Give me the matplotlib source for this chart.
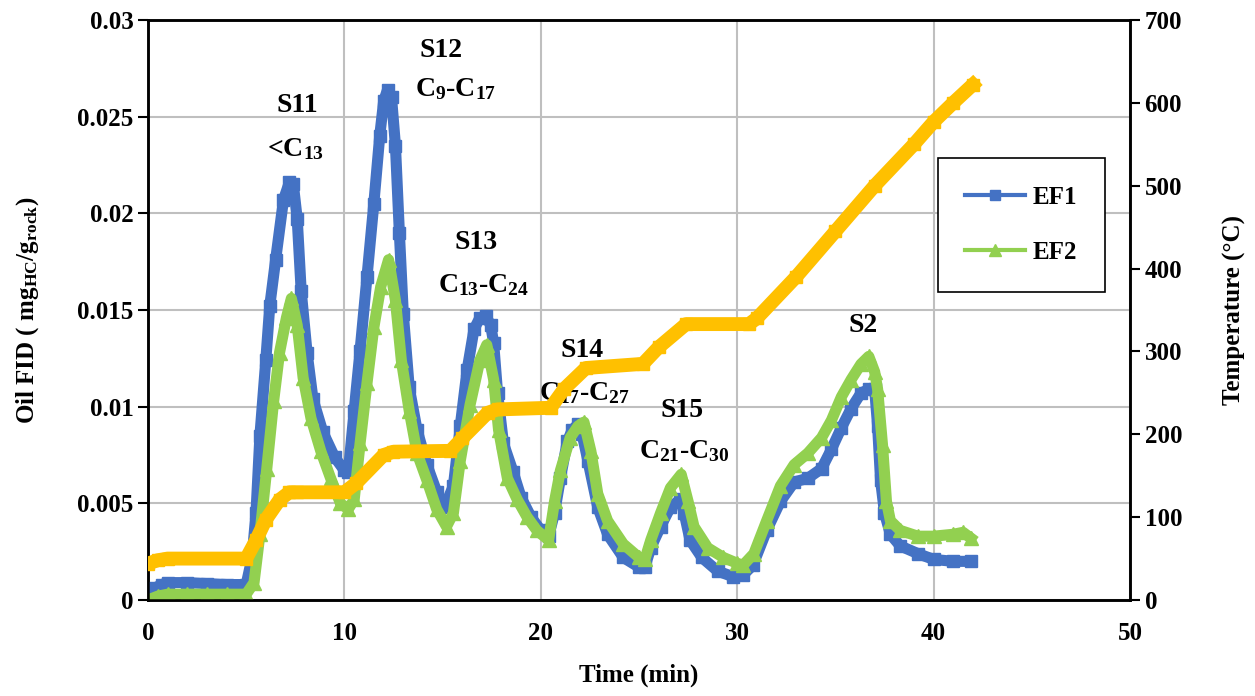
import numpy as np
import matplotlib.pyplot as plt
from matplotlib.lines import Line2D

plt.rcParams['font.family'] = 'Liberation Serif'
plt.rcParams['font.weight'] = 'bold'
plt.rcParams['axes.labelweight'] = 'bold'
plt.rcParams['mathtext.fontset'] = 'custom'
plt.rcParams['mathtext.rm'] = 'Liberation Serif:bold'
plt.rcParams['mathtext.it'] = 'Liberation Serif:bold'
plt.rcParams['mathtext.bf'] = 'Liberation Serif:bold'
plt.rcParams['mathtext.default'] = 'rm'

# EF1 oil FID signal (mg HC / g rock) vs time (min)
t_ef1 = [0, 0.3, 0.7, 1.0, 2.0, 3.0, 4.0, 5.0, 5.3, 5.5, 5.7, 6.0, 6.2, 6.5, 6.9,
         7.2, 7.4, 7.6, 7.8, 8.1, 8.4, 8.9, 9.5, 10.0, 10.2, 10.5, 10.8, 11.15,
         11.5, 11.8, 12.0, 12.2, 12.4, 12.6, 12.8, 13.0, 13.3, 13.7, 14.2, 14.7,
         15.1, 15.55, 15.9, 16.25, 16.6, 16.9, 17.2, 17.45, 17.6, 17.8, 18.1,
         18.6, 19.0, 19.5, 20.0, 20.4, 20.7, 21.0, 21.35, 21.6, 21.9, 22.1, 22.4,
         22.9, 23.4, 24.2, 25.0, 25.3, 25.6, 26.1, 26.6, 27.1, 27.3, 27.6, 28.2,
         29.0, 29.8, 30.3, 30.8, 31.5, 32.2, 32.9, 33.6, 34.3, 34.8, 35.3, 35.8,
         36.3, 36.7, 37.0, 37.15, 37.3, 37.5, 37.8, 38.3, 39.2, 40.0, 41.0, 41.9]
ef1 = [0.0002, 0.0006, 0.0008, 0.0009, 0.0009, 0.00085, 0.0008, 0.0008, 0.0022,
       0.0045, 0.0085, 0.0124, 0.0152, 0.0176, 0.0207, 0.0216, 0.0215, 0.0197,
       0.0160, 0.0128, 0.0104, 0.0087, 0.0074, 0.0067, 0.0066, 0.0098, 0.0129,
       0.0167, 0.0205, 0.0240, 0.0258, 0.0264, 0.0260, 0.0235, 0.0190, 0.0148,
       0.0110, 0.0088, 0.0070, 0.0056, 0.0048, 0.0059, 0.0090, 0.0119, 0.0140,
       0.0146, 0.0147, 0.0142, 0.0133, 0.0107, 0.0081, 0.0066, 0.0053, 0.0043,
       0.0036, 0.0033, 0.0045, 0.0063, 0.0082, 0.0088, 0.0091, 0.0086, 0.0072,
       0.0048, 0.0034, 0.0022, 0.0017, 0.0017, 0.0027, 0.0038, 0.0048, 0.0052,
       0.0045, 0.0031, 0.0022, 0.0015, 0.0012, 0.0013, 0.0018, 0.0036, 0.0051,
       0.0061, 0.0063, 0.0068, 0.0078, 0.0089, 0.0099, 0.0107, 0.0109, 0.0109,
       0.0090, 0.0062, 0.0045, 0.0034, 0.0028, 0.0024, 0.0021, 0.0020, 0.0020]

# EF2 oil FID signal
t_ef2 = [0, 0.5, 1.0, 2.0, 3.0, 4.0, 5.0, 5.4, 5.7, 6.05, 6.4, 6.7, 7.05, 7.3,
         7.6, 7.9, 8.3, 8.8, 9.3, 9.8, 10.2, 10.5, 10.8, 11.15, 11.5, 11.85,
         12.25, 12.6, 12.9, 13.3, 13.7, 14.2, 14.7, 15.2, 15.55, 15.9, 16.4,
         16.9, 17.25, 17.6, 17.85, 18.3, 18.8, 19.3, 19.8, 20.4, 20.7, 21.0,
         21.5, 21.9, 22.2, 22.55, 22.9, 23.4, 24.2, 25.0, 25.3, 25.6, 26.1, 26.6,
         27.15, 27.5, 27.8, 28.5, 29.3, 30.0, 30.3, 30.85, 31.5, 32.2, 32.9,
         33.6, 34.3, 34.8, 35.3, 35.8, 36.3, 36.7, 37.0, 37.15, 37.4, 37.6, 37.8,
         38.3, 39.2, 40.0, 41.0, 41.5, 41.9]
ef2 = [0.0000, 0.0002, 0.0003, 0.0003, 0.0003, 0.0003, 0.0003, 0.0009, 0.0034,
       0.0068, 0.0103, 0.0128, 0.0146, 0.0156, 0.0142, 0.0115, 0.0094, 0.0077,
       0.0063, 0.0050, 0.0047, 0.0052, 0.0081, 0.0112, 0.0141, 0.0162, 0.0176,
       0.0155, 0.0124, 0.0098, 0.0076, 0.0062, 0.0047, 0.0038, 0.0045, 0.0072,
       0.0101, 0.0124, 0.0132, 0.0114, 0.0088, 0.0063, 0.0052, 0.0043, 0.0036,
       0.0031, 0.0051, 0.0067, 0.0084, 0.0090, 0.0092, 0.0077, 0.0055, 0.0041,
       0.0029, 0.0022, 0.0021, 0.0031, 0.0045, 0.0058, 0.0065, 0.0051, 0.0038,
       0.0027, 0.0022, 0.0019, 0.0018, 0.0024, 0.0041, 0.0059, 0.0070, 0.0076,
       0.0084, 0.0093, 0.0105, 0.0114, 0.0122, 0.0126, 0.0118, 0.0109, 0.0080,
       0.0051, 0.0041, 0.0036, 0.0033, 0.0033, 0.0034, 0.0035, 0.0032]

# oven temperature program (degC)
t_temp = [0, 0.5, 1.0, 5.0, 5.5, 6.0, 6.7, 7.2, 7.6, 10.0, 10.6, 12.0, 12.5, 15.4,
          16.0, 17.3, 17.8, 20.5, 21.2, 22.3, 25.2, 26.0, 27.4, 30.6, 31.0, 33.0,
          35.0, 37.0, 39.0, 40.0, 41.0, 42.0]
temp = [44, 48, 50, 50, 72, 97, 121, 130, 130, 130, 141, 175, 179, 180, 195, 226,
        230, 232, 255, 280, 285, 305, 333, 333, 340, 390, 445, 500, 550, 577, 600, 622]

# peak names and carbon ranges
peak_names = ['S11', 'S12', 'S13', 'S14', 'S15', 'S2']
peak_ranges = ['<C$_{13}$', 'C$_{9}$-C$_{17}$', 'C$_{13}$-C$_{24}$',
               'C$_{17}$-C$_{27}$', 'C$_{21}$-C$_{30}$', '']

blue = '#4472C4'
green = '#92D050'
orange = '#FFC000'

fig = plt.figure(figsize=(12.55, 6.96), dpi=100)
ax = fig.add_axes([0.1179, 0.1379, 0.7825, 0.8334])

ax.plot(t_ef1, ef1, color=blue, lw=8, marker='s', ms=9, zorder=3)
ax.plot(t_ef2, ef2, color=green, lw=8, marker='^', ms=10, zorder=4)

ax.set_xlim(0, 50)
ax.set_ylim(0, 0.03)
ax.set_xticks(np.arange(0, 51, 10))
ax.set_yticks(np.arange(0, 0.0301, 0.005))
ax.set_yticklabels(['0', '0.005', '0.01', '0.015', '0.02', '0.025', '0.03'])
ax.grid(True, color='#BFBFBF', lw=1.5)
ax.set_axisbelow(True)
ax.tick_params(axis='y', labelsize=18, length=7, width=1.5, direction='out')
ax.tick_params(axis='x', labelsize=18, length=0, pad=16)
for s in ax.spines.values():
    s.set_color('black')
    s.set_linewidth(1.8)
ax.set_xlabel('Time (min)', fontsize=18, labelpad=13)
ax.set_ylabel('Oil FID ( mg$_{HC}$/g$_{rock}$)', fontsize=18, labelpad=26)

ax2 = ax.twinx()
ax2.plot(t_temp, temp, color=orange, lw=10, marker='s', ms=9, zorder=5)
ax2.set_ylim(0, 700)
ax2.set_yticks(np.arange(0, 701, 100))
ax2.tick_params(axis='y', labelsize=18, length=7, width=1.5, direction='out')
ax2.set_ylabel('Temperature (°C)', fontsize=18, labelpad=29)
for s in ax2.spines.values():
    s.set_color('black')
    s.set_linewidth(1.8)

# peak annotations
name_pos = [(7.6, 0.0256), (14.9, 0.0284), (16.7, 0.0185), (22.1, 0.0129),
            (27.2, 0.0098), (36.4, 0.0142)]
range_pos = [(7.5, 0.0233), (15.65, 0.0264), (17.1, 0.0163), (22.2, 0.0107),
             (27.3, 0.0077), (36.4, 0.0)]
for name, rng, (nx, ny), (rx, ry) in zip(peak_names, peak_ranges, name_pos, range_pos):
    ax.text(nx, ny, name, fontsize=20, ha='center', va='center', zorder=10)
    if rng:
        ax.text(rx, ry, rng, fontsize=20, ha='center', va='center', zorder=10)

handles = [Line2D([], [], color=blue, lw=3, marker='s', ms=7),
           Line2D([], [], color=green, lw=3, marker='^', ms=8)]
leg = ax2.legend(handles, ['EF1', 'EF2'], loc='upper left',
                 bbox_to_anchor=(0.804, 0.762), borderaxespad=0, fontsize=18,
                 frameon=True, fancybox=False, edgecolor='black', framealpha=1,
                 handlelength=2.4, labelspacing=1.3, borderpad=1.1,
                 handletextpad=0.3)
leg.get_frame().set_linewidth(1.2)

fig.savefig('out.png', dpi=100)
